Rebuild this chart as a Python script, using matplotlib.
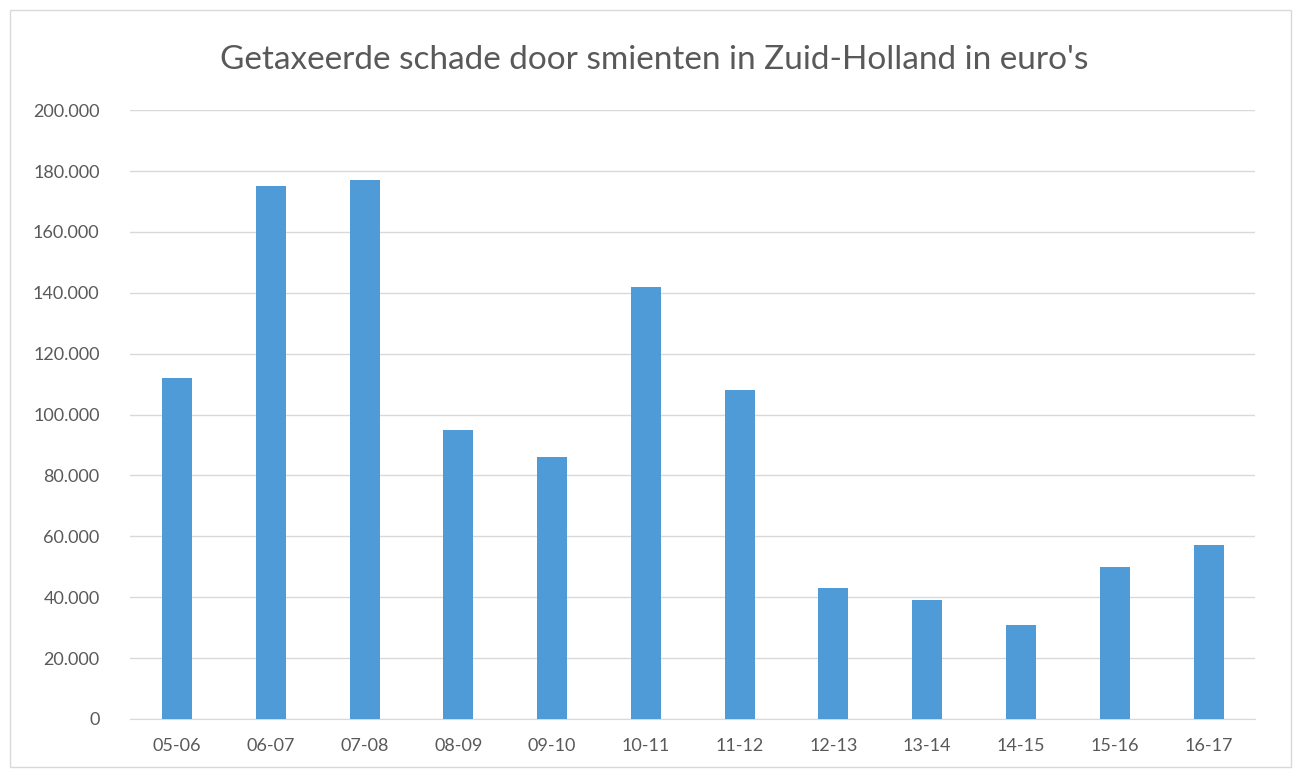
import matplotlib
matplotlib.use('Agg')
import matplotlib.pyplot as plt
from matplotlib.ticker import FuncFormatter, MultipleLocator

seasons = ['05-06', '06-07', '07-08', '08-09', '09-10', '10-11',
           '11-12', '12-13', '13-14', '14-15', '15-16', '16-17']
schade = [112000, 175000, 177000, 95000, 86000, 142000,
          108000, 43000, 39000, 31000, 50000, 57000]

plt.rcParams['font.family'] = ['Lato', 'DejaVu Sans']

def dot_thousands(v, pos):
    return f'{int(v):,}'.replace(',', '.')

fig = plt.figure(figsize=(13.01, 7.76), dpi=100)
ax = fig.add_axes([0.1, 0.0735, 0.865, 0.7845])

x = range(len(seasons))
ax.bar(x, schade, width=0.32, color='#4f9bd7', zorder=3)

ax.set_xlim(-0.5, len(seasons) - 0.5)
ax.set_ylim(0, 200000)
ax.yaxis.set_major_locator(MultipleLocator(20000))
ax.yaxis.set_major_formatter(FuncFormatter(dot_thousands))
ax.set_xticks(list(x))
ax.set_xticklabels(seasons)
ax.grid(axis='y', color='#d9d9d9', linewidth=1, zorder=0)
for s in ax.spines.values():
    s.set_visible(False)
ax.spines['bottom'].set_visible(True)
ax.spines['bottom'].set_color('#d9d9d9')
ax.tick_params(axis='both', length=0, labelsize=13, colors='#595959')
ax.tick_params(axis='x', pad=14)
ax.tick_params(axis='y', pad=22)

fig.text(0.503, 0.923, "Getaxeerde schade door smienten in Zuid-Holland in euro's",
         ha='center', va='center', fontsize=24, color='#595959')

border = plt.Rectangle((0.008, 0.012), 0.984, 0.975, transform=fig.transFigure,
                       fill=False, edgecolor='#d9d9d9', linewidth=1)
fig.patches.append(border)

fig.savefig('out.png', dpi=100)
